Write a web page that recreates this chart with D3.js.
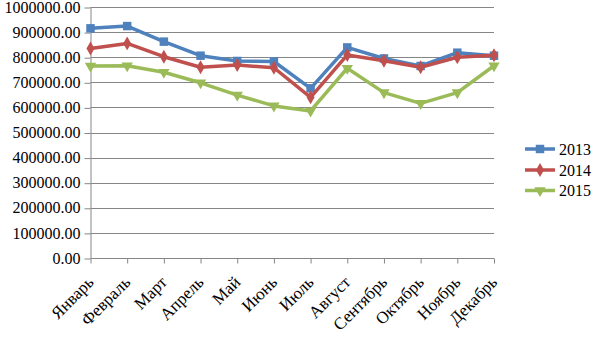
<!DOCTYPE html>
<html>
<head>
<meta charset="utf-8">
<script src="https://cdn.jsdelivr.net/npm/d3@7"></script>
<style>
  html, body { margin: 0; padding: 0; background: #fff; }
  svg { display: block; }
  text { font-family: "Liberation Serif", "DejaVu Serif", serif; fill: #000; }
</style>
</head>
<body>
<svg id="chart" width="605" height="340"></svg>
<script>
// Monthly figures by year
const months = ["Январь", "Февраль", "Март", "Апрель", "Май", "Июнь",
                "Июль", "Август", "Сентябрь", "Октябрь", "Ноябрь", "Декабрь"];
const years = ["2013", "2014", "2015"];
const values2013 = [915000, 924000, 862000, 806000, 785000, 783000, 676000, 839000, 795000, 765000, 818000, 806000];
const values2014 = [835000, 855000, 802000, 760000, 769000, 758000, 640000, 809000, 786000, 760000, 800000, 808000];
const values2015 = [765000, 766000, 740000, 698000, 649000, 606000, 586000, 756000, 659000, 616000, 659000, 766000];
const yTicks = [0, 100000, 200000, 300000, 400000, 500000, 600000, 700000, 800000, 900000, 1000000];

const colors = ["#4F81BD", "#C0504D", "#9BBB59"];
const markers = [d3.symbolSquare, d3.symbolDiamond, d3.symbolTriangle];

const series = years.map((y, i) => ({
  name: y,
  values: [values2013, values2014, values2015][i],
  color: colors[i],
  marker: markers[i]
}));

const svg = d3.select("#chart");
const plot = { left: 90.5, right: 494, top: 7, bottom: 258 };
const grey = "#868686";

const x = d3.scalePoint().domain(months).range([plot.left, plot.right]).padding(0);
const y = d3.scaleLinear().domain([0, 1000000]).range([plot.bottom, plot.top]);

// Horizontal gridlines
svg.append("g").selectAll("line").data(yTicks.slice(1)).join("line")
  .attr("x1", plot.left).attr("x2", plot.right)
  .attr("y1", d => Math.round(y(d)) + 0.5).attr("y2", d => Math.round(y(d)) + 0.5)
  .attr("stroke", grey).attr("stroke-width", 1);

// Value axis
const yAxis = svg.append("g")
  .attr("transform", `translate(${plot.left},0)`)
  .call(d3.axisLeft(y).tickValues(yTicks).tickSize(6).tickPadding(4)
    .tickFormat(d => d3.format(".2f")(d)));
yAxis.selectAll(".tick line").attr("stroke", grey)
  .attr("transform", "translate(0,0.5)");
yAxis.select(".domain").attr("stroke", grey).attr("d", `M0.5,${plot.top}V${plot.bottom + 0.5}`);
yAxis.selectAll("text").attr("font-size", 16).attr("font-family", "Liberation Serif").attr("fill", "#000");

// Category axis
const xAxis = svg.append("g")
  .attr("transform", `translate(0,${plot.bottom + 0.5})`)
  .call(d3.axisBottom(x).tickSize(5).tickPadding(0));
xAxis.select(".domain").attr("stroke", grey).attr("d", `M${plot.left},0H${plot.right}`);
xAxis.selectAll(".tick line").attr("stroke", grey);
xAxis.selectAll(".tick text")
  .attr("font-size", 17)
  .attr("font-family", "Liberation Serif")
  .attr("fill", "#000")
  .attr("text-anchor", "end")
  .attr("dy", "0.35em")
  .attr("transform", "translate(-4,17) rotate(-45)");

// Lines and markers
const line = d3.line().x((d, i) => x(months[i])).y(d => y(d));

series.forEach(s => {
  svg.append("path")
    .datum(s.values)
    .attr("fill", "none")
    .attr("stroke", s.color)
    .attr("stroke-width", 3.5)
    .attr("stroke-linejoin", "round")
    .attr("d", line);

  const sym = d3.symbol().type(s.marker).size(s.marker === d3.symbolSquare ? 72 : 56);
  svg.append("g").selectAll("path").data(s.values).join("path")
    .attr("d", sym)
    .attr("fill", s.color)
    .attr("transform", (d, i) => `translate(${x(months[i])},${y(d)})` +
      (s.marker === d3.symbolTriangle ? " rotate(180)" : ""));
});

// Legend
const legend = svg.append("g");
const legendY = [149, 170, 190.5];
series.forEach((s, i) => {
  const g = legend.append("g").attr("transform", `translate(0,${legendY[i]})`);
  g.append("line").attr("x1", 525).attr("x2", 555).attr("y1", 0).attr("y2", 0)
    .attr("stroke", s.color).attr("stroke-width", 3.5);
  g.append("path")
    .attr("d", d3.symbol().type(s.marker).size(s.marker === d3.symbolSquare ? 72 : 56))
    .attr("fill", s.color)
    .attr("transform", `translate(540,0)` + (s.marker === d3.symbolTriangle ? " rotate(180)" : ""));
  g.append("text").attr("x", 559).attr("y", 0).attr("dy", "0.35em")
    .attr("font-size", 16).text(s.name);
});
</script>
</body>
</html>
